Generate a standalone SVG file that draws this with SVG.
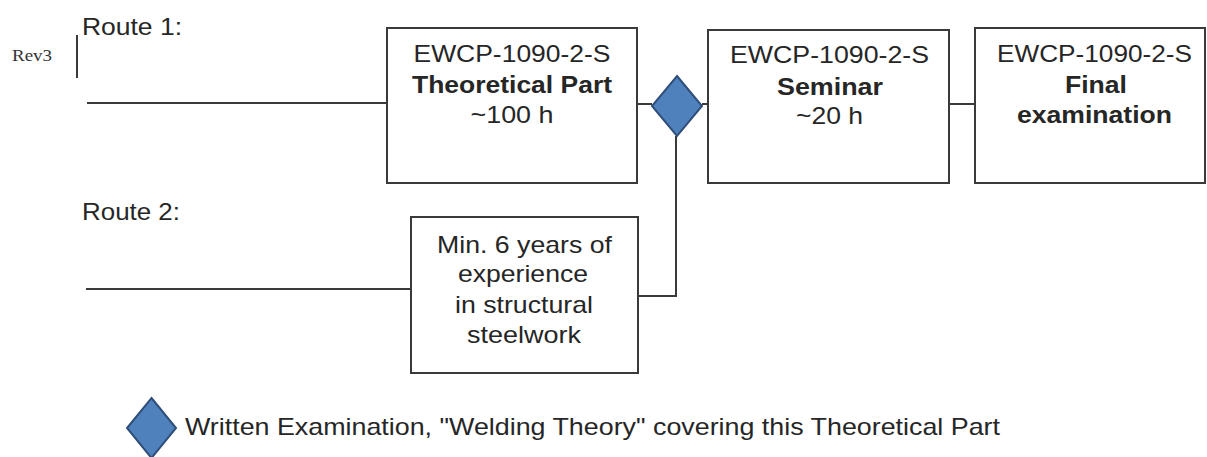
<svg xmlns="http://www.w3.org/2000/svg" width="1207" height="457" viewBox="0 0 1207 457">
<style>
.box{fill:#fff;stroke:#3a3a3a;stroke-width:2}
.ln{fill:none;stroke:#3a3a3a;stroke-width:2}
.dia{fill:#4f81bd;stroke:#2f4f7a;stroke-width:2;stroke-linejoin:miter}
.t{font-family:"Liberation Sans",Arial,sans-serif;font-size:24px;fill:#262626;text-anchor:middle}
.b{font-weight:bold}
.lbl{font-family:"Liberation Sans",Arial,sans-serif;font-size:24px;fill:#262626}
</style>
<rect width="1207" height="457" fill="#fff"/>
<text x="12" y="61" font-family="'Liberation Serif','Times New Roman',serif" font-size="16" fill="#333" textLength="40" lengthAdjust="spacingAndGlyphs">Rev3</text>
<line class="ln" x1="77" y1="35" x2="77" y2="78"/>
<text class="lbl" x="82" y="35" textLength="100" lengthAdjust="spacingAndGlyphs">Route 1:</text>
<text class="lbl" x="82" y="220" textLength="98" lengthAdjust="spacingAndGlyphs">Route 2:</text>
<g id="connectors">
<line class="ln" x1="87" y1="103" x2="387" y2="103"/>
<line class="ln" x1="637" y1="104" x2="652" y2="104"/>
<line class="ln" x1="702" y1="104" x2="708" y2="104"/>
<line class="ln" x1="949" y1="104" x2="975" y2="104"/>
<line class="ln" x1="86" y1="289" x2="411" y2="289"/>
<polyline class="ln" points="638,296 676,296 676,136"/>
</g>
<g id="theory">
<rect class="box" x="387" y="28" width="250" height="155"/>
<text class="t" x="512" y="62" textLength="197" lengthAdjust="spacingAndGlyphs">EWCP-1090-2-S</text>
<text class="t b" x="512" y="93" textLength="200" lengthAdjust="spacingAndGlyphs">Theoretical Part</text>
<text class="t" x="512" y="123" textLength="83" lengthAdjust="spacingAndGlyphs">~100 h</text>
</g>
<g id="exam-diamond">
<polygon class="dia" points="677,76 702,106 677,136 652,106"/>
</g>
<g id="seminar">
<rect class="box" x="708" y="30" width="241" height="153"/>
<text class="t" x="829.5" y="63" textLength="199" lengthAdjust="spacingAndGlyphs">EWCP-1090-2-S</text>
<text class="t b" x="830" y="95" textLength="106" lengthAdjust="spacingAndGlyphs">Seminar</text>
<text class="t" x="829.5" y="124" textLength="67" lengthAdjust="spacingAndGlyphs">~20 h</text>
</g>
<g id="final">
<rect class="box" x="975" y="28" width="230" height="155"/>
<text class="t" x="1094.5" y="62" textLength="195" lengthAdjust="spacingAndGlyphs">EWCP-1090-2-S</text>
<text class="t b" x="1096" y="93" textLength="62" lengthAdjust="spacingAndGlyphs">Final</text>
<text class="t b" x="1094.5" y="123" textLength="155" lengthAdjust="spacingAndGlyphs">examination</text>
</g>
<g id="experience">
<rect class="box" x="411" y="217" width="227" height="156"/>
<text class="t" x="524.5" y="253" textLength="175" lengthAdjust="spacingAndGlyphs">Min. 6 years of</text>
<text class="t" x="523" y="282" textLength="130" lengthAdjust="spacingAndGlyphs">experience</text>
<text class="t" x="524" y="313" textLength="138" lengthAdjust="spacingAndGlyphs">in structural</text>
<text class="t" x="524" y="343" textLength="114" lengthAdjust="spacingAndGlyphs">steelwork</text>
</g>
<g id="legend">
<polygon class="dia" points="151.5,398 176,428 151.5,458 127,428"/>
<text class="lbl" x="185" y="435" font-size="23" textLength="815" lengthAdjust="spacingAndGlyphs">Written Examination, "Welding Theory" covering this Theoretical Part</text>
</g>
</svg>
